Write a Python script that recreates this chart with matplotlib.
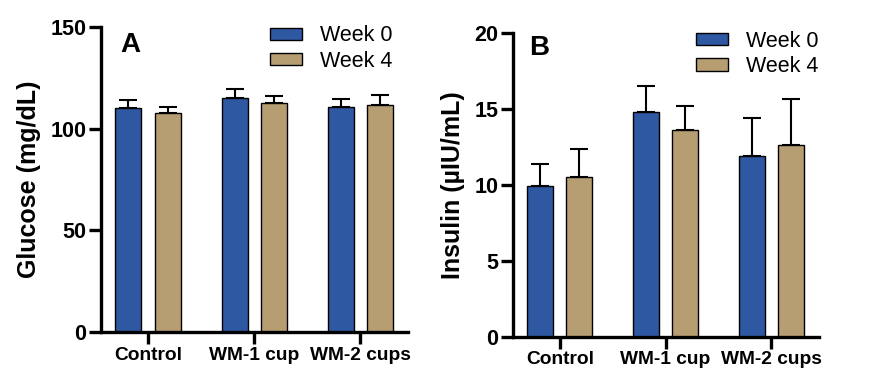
import matplotlib
matplotlib.use("Agg")
import matplotlib.pyplot as plt
import numpy as np
from matplotlib.patches import Patch

categories = ["Control", "WM-1 cup", "WM-2 cups"]
series = ["Week 0", "Week 4"]
glucose_w0 = [110, 115, 110.5]
glucose_w4 = [107.5, 112.5, 111.5]
glucose_err_w0 = [4.0, 4.3, 4.0]
glucose_err_w4 = [3.3, 3.8, 5.0]
insulin_w0 = [9.9, 14.8, 11.9]
insulin_w4 = [10.55, 13.65, 12.65]
insulin_err_w0 = [1.5, 1.7, 2.5]
insulin_err_w4 = [1.8, 1.55, 3.0]
glucose_ticks = [0, 50, 100, 150]
insulin_ticks = [0, 5, 10, 15, 20]

BLUE = "#2f58a3"
TAN = "#b69e72"
FONT = "Liberation Sans"

fig = plt.figure(figsize=(8.73, 3.78), dpi=100)
axA = fig.add_axes([0.1157, 0.1217, 0.3517, 0.8069])
axB = fig.add_axes([0.5876, 0.1093, 0.3504, 0.8027])

def panel(ax, w0, w4, e0, e4, ticks, ylabel, letter, letter_pos, leg_anchor):
    x = np.arange(len(categories))
    off = 0.185
    width = 0.245
    for vals, errs, col, sgn, lab in [(w0, e0, BLUE, -1, series[0]), (w4, e4, TAN, 1, series[1])]:
        ax.bar(x + sgn * off, vals, width, color=col, edgecolor="black", linewidth=1.0, label=lab, zorder=2)
        ax.errorbar(x + sgn * off, vals, yerr=[np.zeros(len(vals)), errs], fmt="none",
                    ecolor="black", elinewidth=1.5, capsize=6.5, capthick=1.5, zorder=1)
    ax.set_xlim(-0.443, 2.45)
    ax.set_ylim(ticks[0], ticks[-1])
    ax.set_yticks(ticks)
    ax.set_xticks(x)
    ax.set_xticklabels(categories, fontsize=13.8, fontweight="bold", family=FONT)
    for t in ax.get_yticklabels():
        t.set_fontsize(15.5)
        t.set_fontweight("bold")
        t.set_family(FONT)
    ax.spines["top"].set_visible(False)
    ax.spines["right"].set_visible(False)
    ax.spines["left"].set_linewidth(2.4)
    ax.spines["bottom"].set_linewidth(2.4)
    ax.tick_params(axis="both", direction="out", length=8.5, width=2.4, pad=2)
    ax.set_ylabel(ylabel, fontsize=18, fontweight="bold", family=FONT, labelpad=7)
    ax.text(letter_pos[0], letter_pos[1], letter, transform=ax.transAxes, fontsize=20,
            fontweight="bold", family=FONT, va="top", ha="left")
    handles = [Patch(facecolor=BLUE, edgecolor="black", linewidth=1.0),
               Patch(facecolor=TAN, edgecolor="black", linewidth=1.0)]
    ax.legend(handles, series, loc="upper right", bbox_to_anchor=leg_anchor, frameon=False,
              prop={"family": FONT, "size": 15.5}, handlelength=1.5, handleheight=0.5,
              handletextpad=0.85, labelspacing=0.2, borderpad=0, borderaxespad=0)

panel(axA, glucose_w0, glucose_w4, glucose_err_w0, glucose_err_w4, glucose_ticks,
      "Glucose (mg/dL)", "A", (0.062, 0.985), (0.95, 1.005))
panel(axB, insulin_w0, insulin_w4, insulin_err_w0, insulin_err_w4, insulin_ticks,
      "Insulin (µIU/mL)", "B", (0.052, 0.995), (1.0, 1.008))

fig.savefig("out.png", dpi=100)
